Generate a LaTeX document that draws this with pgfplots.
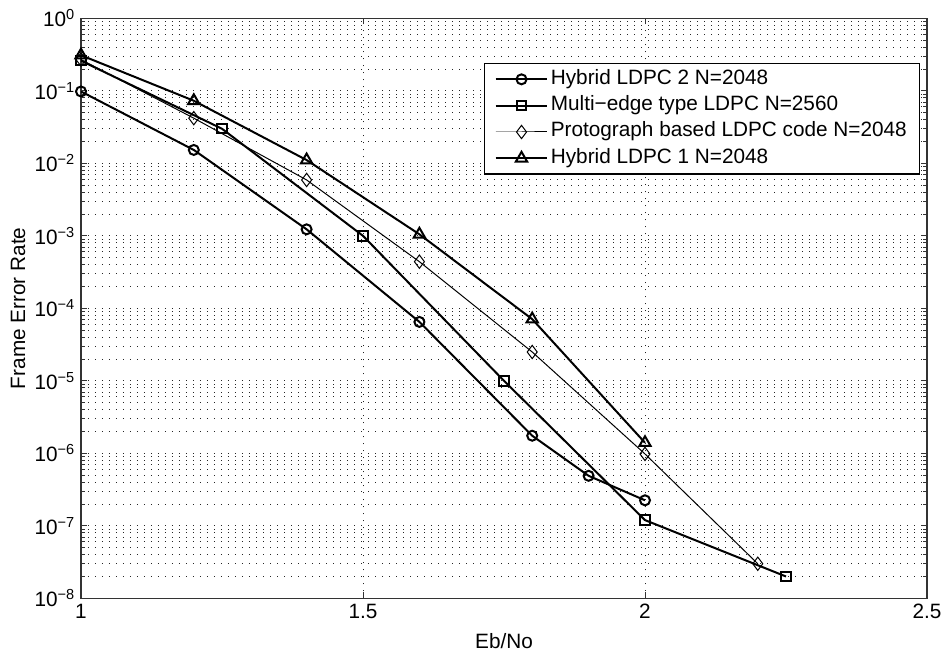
\documentclass[border=0pt]{standalone}
\usepackage{fontspec}
\setmainfont{Liberation Sans}
\usepackage{pgfplots}
\pgfplotsset{compat=1.18}

\begin{document}
\begin{tikzpicture}[font=\fontsize{12.5}{15}\selectfont]
\begin{axis}[
  scale only axis, width=507.6bp, height=348bp,
  xmin=1, xmax=2.5, ymode=log, ymin=1e-8, ymax=1,
  xtick={1,1.5,2,2.5}, xticklabels={1,1.5,2,2.5},
  ytick={1e-8,1e-7,1e-6,1e-5,1e-4,1e-3,1e-2,1e-1,1},
  yticklabels={10\textsuperscript{−8},10\textsuperscript{−7},10\textsuperscript{−6},10\textsuperscript{−5},10\textsuperscript{−4},10\textsuperscript{−3},10\textsuperscript{−2},10\textsuperscript{−1},10\textsuperscript{0}},
  minor ytick={2e-8,3e-8,4e-8,5e-8,6e-8,7e-8,8e-8,9e-8,
               2e-7,3e-7,4e-7,5e-7,6e-7,7e-7,8e-7,9e-7,
               2e-6,3e-6,4e-6,5e-6,6e-6,7e-6,8e-6,9e-6,
               2e-5,3e-5,4e-5,5e-5,6e-5,7e-5,8e-5,9e-5,
               2e-4,3e-4,4e-4,5e-4,6e-4,7e-4,8e-4,9e-4,
               2e-3,3e-3,4e-3,5e-3,6e-3,7e-3,8e-3,9e-3,
               2e-2,3e-2,4e-2,5e-2,6e-2,7e-2,8e-2,9e-2,
               2e-1,3e-1,4e-1,5e-1,6e-1,7e-1,8e-1,9e-1},
  tick align=inside, xtick pos=both, ytick pos=both,
  major tick length=3.6bp, minor tick length=2.2bp,
  tick style={black!80, line width=0.6bp},
  xmajorgrids=true, ymajorgrids=true, yminorgrids=true,
  major grid style={black!85, line width=0.6bp, dash pattern=on 0.6bp off 3.6bp},
  minor grid style={black!85, line width=0.6bp, dash pattern=on 0.6bp off 3.6bp},
  axis line style={black!80, line width=0.8bp},
  xlabel={Eb/No}, ylabel={Frame Error Rate},
  xlabel style={at={(axis description cs:0.5,-0.074)}, anchor=center},
  ylabel style={at={(axis description cs:-0.0745,0.5)}, anchor=center},
  legend style={at={(rel axis cs:0.9917,0.923)}, anchor=north east,
    draw=black, line width=0.8bp, fill=white, inner xsep=6bp, inner ysep=1.5bp,
    nodes={inner xsep=1.5bp, inner ysep=1.9bp, text height=9bp, text depth=3bp}},
  legend cell align=left,
  legend image code/.code={\draw[mark repeat=2,mark phase=2] plot coordinates {(0bp,0bp)(15.5bp,0bp)(31bp,0bp)};},
]
\addplot[black, line width=1.2bp, mark=o, mark size=3bp, mark options={solid}] coordinates {
  (1,0.098) (1.2,0.0153) (1.4,1.23e-3) (1.6,6.5e-5) (1.8,1.75e-6) (1.9,4.9e-7) (2,2.25e-7)};
\addlegendentry{Hybrid LDPC 2 N=2048}
\addplot[black, line width=1.2bp, mark=square, mark size=2.8bp, mark options={solid}] coordinates {
  (1,0.26) (1.25,0.03) (1.5,1e-3) (1.75,1e-5) (2,1.2e-7) (2.25,2e-8)};
\addlegendentry{Multi−edge type LDPC N=2560}
\addplot[black, line width=0.6bp, mark=diamond, mark size=4bp, mark options={solid}] coordinates {
  (1,0.27) (1.2,0.042) (1.4,0.0059) (1.6,4.4e-4) (1.8,2.5e-5) (2,9.8e-7) (2.2,3e-8)};
\addlegendentry{Protograph based LDPC code N=2048}
\addplot[black, line width=1.2bp, mark=triangle, mark size=3.9bp, mark options={solid}] coordinates {
  (1,0.31) (1.2,0.073) (1.4,0.0111) (1.6,1.05e-3) (1.8,7.1e-5) (2,1.4e-6)};
\addlegendentry{Hybrid LDPC 1 N=2048}
\end{axis}
\pgfresetboundingbox
\path ([shift={(-48.6bp,-32.4bp)}]current axis.south west) rectangle ([shift={(10.8bp,11bp)}]current axis.north east);
\end{tikzpicture}
\end{document}
